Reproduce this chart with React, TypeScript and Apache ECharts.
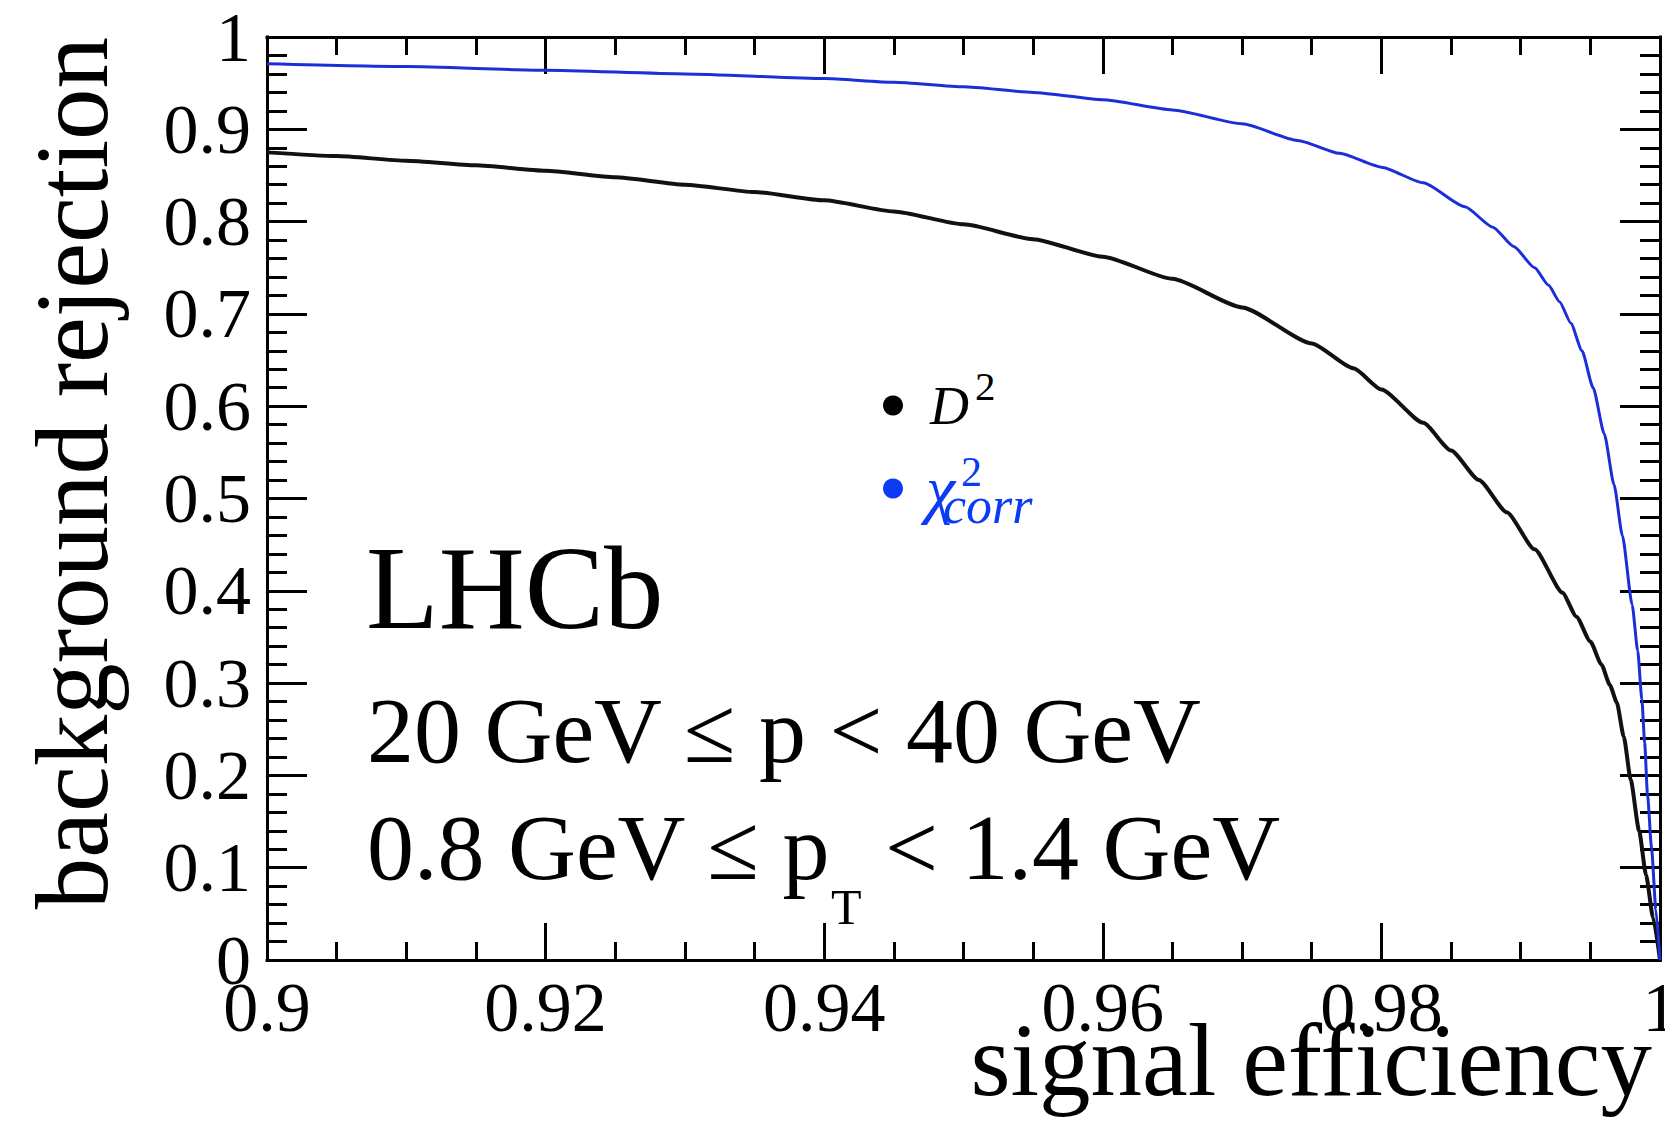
import React, { useEffect, useRef } from 'react';
import * as echarts from 'echarts';

// D^2 curve: signal efficiency vs background rejection
const effD2 = [0.9, 0.905, 0.91, 0.915, 0.92, 0.925, 0.93, 0.935, 0.94, 0.945, 0.95, 0.955, 0.96, 0.965, 0.97, 0.975, 0.978, 0.98, 0.983, 0.985, 0.987, 0.989, 0.991, 0.993, 0.994, 0.995, 0.9958, 0.9964, 0.9969, 0.9974, 0.9979, 0.9985, 0.999, 0.9995, 1.0];
const rejD2 = [0.875, 0.871, 0.866, 0.861, 0.855, 0.848, 0.84, 0.832, 0.823, 0.811, 0.797, 0.781, 0.762, 0.738, 0.707, 0.668, 0.641, 0.618, 0.582, 0.552, 0.52, 0.485, 0.445, 0.398, 0.372, 0.345, 0.32, 0.298, 0.279, 0.242, 0.195, 0.14, 0.092, 0.046, 0.0];

// chi^2_corr curve
const effChi = [0.9, 0.91, 0.92, 0.93, 0.94, 0.945, 0.95, 0.955, 0.96, 0.965, 0.97, 0.974, 0.977, 0.98, 0.983, 0.986, 0.988, 0.9895, 0.991, 0.992, 0.9928, 0.9936, 0.9944, 0.9952, 0.996, 0.9967, 0.9973, 0.998, 0.9984, 0.9987, 0.9989, 0.9991, 0.9994, 0.9997, 1.0];
const rejChi = [0.971, 0.968, 0.964, 0.96, 0.955, 0.951, 0.946, 0.94, 0.932, 0.921, 0.906, 0.888, 0.874, 0.859, 0.842, 0.816, 0.794, 0.773, 0.75, 0.731, 0.713, 0.69, 0.66, 0.62, 0.57, 0.515, 0.46, 0.385, 0.335, 0.282, 0.235, 0.18, 0.12, 0.055, 0.0];

const seriesNames = ['D²', 'χ²corr'];
const xTitle = 'signal efficiency';
const yTitle = 'background rejection';
const experiment = 'LHCb';
const line1 = '20 GeV ≤ p < 40 GeV';

const serif = '"Liberation Serif", "Times New Roman", Times, serif';
const BLUE_LINE = '#1b2fd8';
const BLUE_TEXT = '#0b3bf5';

function zip(xs: number[], ys: number[]) {
  return xs.map((x, i) => [x, ys[i]]);
}

function axisCommon(majorLen: number, minorLen: number, minorSplit: number) {
  return {
    axisLine: { show: true, onZero: false, lineStyle: { color: '#000', width: 3, cap: 'square' } },
    axisTick: { show: true, inside: true, length: majorLen, lineStyle: { color: '#000', width: 3 } },
    minorTick: { show: true, splitNumber: minorSplit, length: minorLen, lineStyle: { color: '#000', width: 3 } },
    splitLine: { show: false },
    minorSplitLine: { show: false },
  } as any;
}

export default function App() {
  const ref = useRef<HTMLDivElement>(null);
  useEffect(() => {
    const chart = echarts.init(ref.current!, null, { renderer: 'svg' });
    const option: any = {
      animation: false,
      backgroundColor: '#fff',
      grid: { left: 267, right: 5, top: 37, bottom: 168, containLabel: false, outerBoundsMode: 'none' },
      xAxis: [
        {
          type: 'value', position: 'bottom', min: 0.9, max: 1, interval: 0.02,
          ...axisCommon(37, 18, 4),
          axisLabel: { show: true, margin: 12, fontSize: 70, fontFamily: serif, color: '#000', showMinLabel: true, showMaxLabel: true, hideOverlap: false },
        },
        {
          type: 'value', position: 'top', min: 0.9, max: 1, interval: 0.02,
          ...axisCommon(37, 18, 4),
          axisLabel: { show: false },
        },
      ],
      yAxis: [
        {
          type: 'value', position: 'left', min: 0, max: 1, interval: 0.1,
          ...axisCommon(40, 20, 5),
          axisLabel: { show: true, margin: 16, fontSize: 70, fontFamily: serif, color: '#000', padding: [8, 0, 0, 0], showMinLabel: true, showMaxLabel: true, hideOverlap: false },
        },
        {
          type: 'value', position: 'right', min: 0, max: 1, interval: 0.1,
          ...axisCommon(40, 20, 5),
          axisLabel: { show: false },
        },
      ],
      legend: {
        orient: 'vertical',
        left: 883,
        top: 365,
        padding: 0,
        itemGap: 0,
        itemWidth: 20,
        itemHeight: 20,
        icon: 'circle',
        selectedMode: false,
        data: [
          { name: seriesNames[0], itemStyle: { color: '#000' } },
          { name: seriesNames[1], itemStyle: { color: BLUE_TEXT } },
        ],
        formatter: (name: string) => (name === seriesNames[0] ? '{d|D}{ds|2}' : '{c|χ}{cb|corr}'),
        textStyle: {
          rich: {
            d: { fontSize: 54, lineHeight: 48, fontFamily: serif, fontStyle: 'italic', color: '#000', padding: [0, 0, 0, 22] },
            ds: { fontSize: 41, lineHeight: 38, fontFamily: serif, color: '#000', padding: [0, 0, 40, 6] },
            c: { fontSize: 66, lineHeight: 50, fontFamily: serif, fontStyle: 'italic', color: BLUE_TEXT, padding: [0, 0, 0, 18], width: 17 },
            cb: { fontSize: 52, lineHeight: 50, fontFamily: serif, fontStyle: 'italic', color: BLUE_TEXT, padding: [33, 0, 0, 0] },
          },
        },
      },
      graphic: [
        {
          type: 'text', x: 72, y: 37, rotation: Math.PI / 2,
          style: { text: yTitle, font: `103px ${serif}`, fill: '#000', textAlign: 'right', textVerticalAlign: 'middle', align: 'right', verticalAlign: 'middle' },
        },
        {
          type: 'text', x: 1652, y: 1060,
          style: { text: xTitle, font: `103px ${serif}`, fill: '#000', textAlign: 'right', textVerticalAlign: 'middle', align: 'right', verticalAlign: 'middle' },
        },
        {
          type: 'text', x: 366, y: 588,
          style: { text: experiment, font: `119px ${serif}`, fill: '#000', textAlign: 'left', textVerticalAlign: 'middle', align: 'left', verticalAlign: 'middle' },
        },
        {
          type: 'text', x: 367, y: 730,
          style: { text: line1, font: `94px ${serif}`, fill: '#000', textAlign: 'left', textVerticalAlign: 'middle', align: 'left', verticalAlign: 'middle' },
        },
        {
          type: 'text', x: 367, y: 847,
          style: {
            text: '{m|0.8 GeV ≤ p}{s|T}{m| < 1.4 GeV}',
            fill: '#000', textAlign: 'left', textVerticalAlign: 'middle', align: 'left', verticalAlign: 'middle',
            rich: {
              m: { fontSize: 94, lineHeight: 94, fontFamily: serif, fill: '#000', color: '#000' },
              s: { fontSize: 50, lineHeight: 50, fontFamily: serif, fill: '#000', color: '#000', padding: [120, 0, 0, 0] },
            },
          },
        },
        {
          type: 'text', x: 961, y: 472,
          style: { text: '2', font: `42px ${serif}`, fill: BLUE_TEXT, textAlign: 'left', textVerticalAlign: 'middle', align: 'left', verticalAlign: 'middle' },
        },
      ],
      series: [
        {
          name: seriesNames[0], type: 'line', xAxisIndex: 0, yAxisIndex: 0,
          data: zip(effD2, rejD2), showSymbol: false, symbol: 'none', smooth: 0.2, smoothMonotone: 'x',
          color: '#000', lineStyle: { color: '#111', width: 4 },
        },
        {
          name: seriesNames[1], type: 'line', xAxisIndex: 0, yAxisIndex: 0,
          data: zip(effChi, rejChi), showSymbol: false, symbol: 'none', smooth: 0.2, smoothMonotone: 'x',
          color: BLUE_TEXT, lineStyle: { color: BLUE_LINE, width: 3 },
        },
      ],
    };
    chart.setOption(option);
    return () => chart.dispose();
  }, []);
  return <div ref={ref} style={{ position: 'fixed', left: 0, top: 0, width: 1665, height: 1128, background: '#fff' }} />;
}
